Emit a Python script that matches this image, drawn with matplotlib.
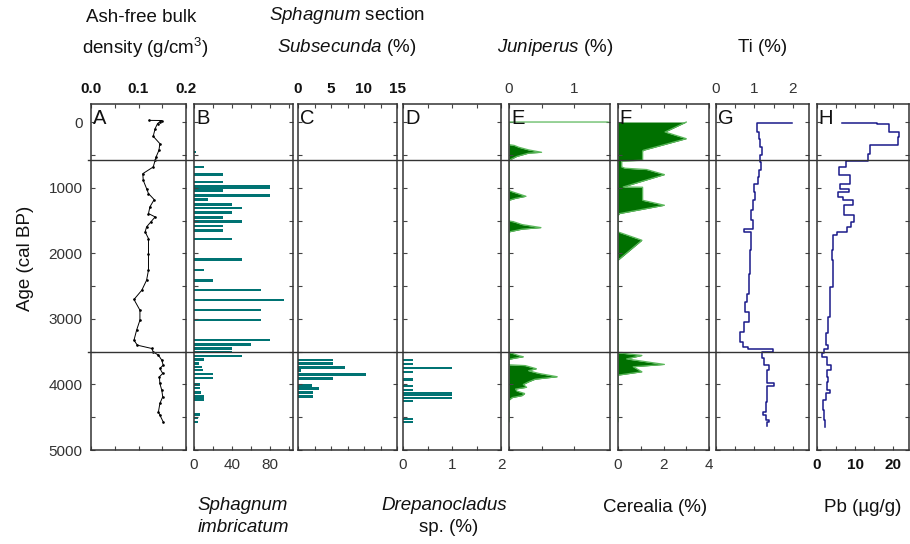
import numpy as np
import matplotlib
matplotlib.use('Agg')
import matplotlib.pyplot as plt
from matplotlib.lines import Line2D
from matplotlib.transforms import blended_transform_factory

plt.rcParams['font.family'] = ['Liberation Sans', 'DejaVu Sans']
plt.rcParams['mathtext.fontset'] = 'custom'
plt.rcParams['mathtext.rm'] = 'Liberation Sans'
plt.rcParams['mathtext.it'] = 'Liberation Sans:italic'

# zone boundaries (cal BP)
zones = [580, 3500]

# A: ash-free bulk density (g/cm3)
dens_age = [-30, -28, -10, 20, 96, 213, 325, 427, 528, 579,
            681, 783, 884, 1011, 1087, 1179, 1290, 1392, 1443, 1519,
            1595, 1672, 1773, 2002, 2256, 2409, 2561, 2703, 2866, 3019,
            3171, 3324, 3400, 3451, 3502, 3553, 3629, 3705, 3756, 3832,
            3883, 3985, 4087, 4188, 4290, 4417, 4468, 4570]
dens_val = [0.123, 0.149, 0.145, 0.140, 0.135, 0.131, 0.145, 0.143, 0.137, 0.135,
            0.131, 0.109, 0.110, 0.117, 0.121, 0.133, 0.124, 0.121, 0.135, 0.126,
            0.117, 0.114, 0.121, 0.121, 0.121, 0.117, 0.107, 0.0905, 0.103, 0.103,
            0.096, 0.0905, 0.0975, 0.128, 0.131, 0.142, 0.149, 0.152, 0.145, 0.151,
            0.144, 0.145, 0.149, 0.151, 0.145, 0.142, 0.145, 0.152]

# B: Sphagnum imbricatum
imb_age = [452, 681, 793, 910, 971, 996, 1037, 1113, 1174, 1250,
           1306, 1377, 1453, 1509, 1580, 1646, 1783, 2093, 2256, 2409,
           2561, 2713, 2866, 3019, 3324, 3390, 3451, 3502, 3563, 3619,
           3680, 3731, 3782, 3843, 3899, 4001, 4052, 4123, 4179, 4230,
           4458, 4509, 4570]
imb_val = [2, 10.5, 30, 30, 80, 80, 30, 80, 15, 40,
           50, 40, 30, 50, 30, 30, 40, 50, 10, 20,
           70, 95, 70, 70, 80, 60, 40, 40, 50, 10,
           5, 8, 9, 20, 20, 6, 6, 7, 10, 10,
           6, 4, 4]

# C: Sphagnum section Subsecunda (%)
sub_age = [3628, 3679, 3740, 3791, 3852, 3913, 4014, 4065, 4126, 4187]
sub_val = [5.25, 5.25, 7.1, 0.4, 10.3, 5.25, 2.1, 3.2, 2.2, 2.2]

# D: Drepanocladus sp. (%)
dre_age = [3628, 3689, 3750, 3811, 3913, 3933, 4024, 4085, 4126, 4156, 4202, 4248, 4522, 4578]
dre_val = [0.21, 0.21, 1.01, 0.21, 0.21, 0.21, 0.21, 0.21, 1.0, 1.0, 1.0, 0.21, 0.21, 0.21]

# E: Juniperus (%)
jun_age = [-5, -5, 340, 352, 380, 420, 457, 470, 520, 579,
           1040, 1060, 1128, 1160, 1189,
           1505, 1520, 1560, 1606, 1630, 1672,
           3510, 3525, 3560, 3577, 3600, 3618,
           3700, 3712, 3760, 3790, 3830, 3882, 3920, 3960, 4000, 4043,
           4070, 4100, 4138, 4170, 4200, 4240, 4568]
jun_val = [1.52, 0, 0, 0.08, 0.15, 0.3, 0.5, 0.3, 0.12, 0,
           0, 0.05, 0.26, 0.1, 0,
           0, 0.08, 0.2, 0.49, 0.2, 0,
           0, 0.05, 0.15, 0.22, 0.08, 0,
           0, 0.25, 0.42, 0.3, 0.45, 0.74, 0.4, 0.3, 0.22, 0.27,
           0.1, 0.12, 0.24, 0.2, 0.05, 0, 0]

# F: Cerealia (%)
cer_age = [-5, 147, 249, 427, 440, 579, 590, 681, 700, 720,
           797, 986, 990, 1189, 1265, 1392, 1420, 1672, 1799, 2104,
           3516, 3557, 3610, 3694, 3730, 3806, 3858, 4568]
cer_val = [3.0, 2.07, 3.0, 1.11, 1.08, 1.08, 0.16, 0.16, 0.31, 1.26,
           2.04, 0.23, 1.08, 1.08, 2.04, 0.07, 0, 0, 1.05, 0,
           0, 1.05, 0.38, 2.04, 0.67, 1.05, 0, 0]

# G: Ti (%), sample boundaries and values
ti_bounds = [5, 10, 147, 249, 376, 503, 605, 732, 833, 935,
             1062, 1189, 1341, 1494, 1621, 1672, 1951, 2307, 2612, 2739,
             2891, 3044, 3197, 3349, 3425, 3466, 3502, 3603, 3705, 3781,
             3857, 3984, 4024, 4263, 4416, 4467, 4543, 4568, 4634]
ti_val = [1.99, 1.06, 1.12, 1.15, 1.19, 1.15, 1.17, 1.12, 1.08, 0.98,
          1.01, 0.95, 0.91, 0.95, 0.74, 0.91, 0.89, 0.86, 0.80, 0.76,
          0.86, 0.72, 0.63, 0.69, 0.82, 1.49, 1.19, 1.25, 1.38, 1.34,
          1.32, 1.51, 1.34, 1.30, 1.21, 1.30, 1.38, 1.32]

# H: Pb (ug/g)
pb_bounds = [4, 5, 20, 147, 224, 351, 478, 595, 681, 808,
             935, 1011, 1062, 1138, 1189, 1265, 1418, 1519, 1595, 1672,
             1722, 1951, 2104, 2510, 2967, 3222, 3400, 3466, 3527, 3578,
             3705, 3781, 3883, 3959, 4086, 4136, 4238, 4390, 4543, 4644]
pb_val = [6.5, 15.7, 19.0, 21.7, 21.4, 13.9, 13.5, 7.6, 5.9, 8.7,
          6.1, 8.3, 5.6, 6.8, 9.6, 7.1, 9.8, 8.9, 7.8, 5.2,
          4.3, 4.0, 4.2, 3.4, 3.0, 2.4, 3.0, 1.9, 1.2, 2.5,
          3.6, 2.5, 3.0, 2.5, 3.4, 2.4, 1.5, 1.9, 2.1]


def steps(bounds, vals):
    y = np.repeat(bounds, 2)[1:-1]
    x = np.repeat(vals, 2)
    return x, y


W, H = 910, 544
fig = plt.figure(figsize=(W / 100, H / 100), dpi=100)

panel_x = [(91, 186), (194, 293), (298, 397), (403, 501),
           (509, 610), (618, 709), (716, 809), (817, 909)]
letters = 'ABCDEFGH'
axes = []
for (x0, x1), let in zip(panel_x, letters):
    ax = fig.add_axes([x0 / W, (H - 450) / H, (x1 - x0) / W, 346 / H])
    ax.set_ylim(5000, -280)
    ax.set_yticks(np.arange(0, 5001, 500))
    ax.set_yticklabels([str(v) if v % 1000 == 0 else '' for v in range(0, 5001, 500)])
    ax.tick_params(axis='both', which='both', direction='in', top=True, right=True,
                   length=3, width=0.8, color='#444444', labelsize=11,
                   labelcolor='#333333', pad=6)
    ax.tick_params(axis='y', labelleft=(let == 'A'))
    for s in ax.spines.values():
        s.set_color('#333333')
        s.set_linewidth(1.1)
    ax.text(0.02, 0.985, let, transform=ax.transAxes, ha='left', va='top',
            fontsize=14.5, color='#111111')
    axes.append(ax)

axA, axB, axC, axD, axE, axF, axG, axH = axes

teal = '#007373'
green = '#007000'
light_green = '#5cb85c'
navy = '#1a1a8a'

# A
axA.plot(dens_val, dens_age, color='black', lw=0.7, marker='.', ms=1.8)
axA.set_xlim(0, 0.2)
axA.set_xticks([0, 0.1, 0.2])
axA.set_xticklabels(['0.0', '0.1', '0.2'])
axA.set_xticks([0.05, 0.15], minor=True)

# B
axB.barh(imb_age, imb_val, height=40, color=teal)
axB.set_xlim(0, 104)
axB.set_xticks([0, 40, 80])
axB.set_xticks([20, 60, 100], minor=True)

# C
axC.barh(sub_age, sub_val, height=40, color=teal)
axC.set_xlim(0, 15)
axC.set_xticks([0, 5, 10, 15])
axC.set_xticks([2.5, 7.5, 12.5], minor=True)

# D
axD.barh(dre_age, dre_val, height=32, color=teal)
axD.set_xlim(0, 2)
axD.set_xticks([0, 1, 2])
axD.set_xticks([0.5, 1.5], minor=True)

# E
axE.fill_betweenx(jun_age, 0, jun_val, color=green, lw=0)
axE.plot(jun_val, jun_age, color=light_green, lw=0.9)
axE.set_xlim(0, 1.55)
axE.set_xticks([0, 1])
axE.set_xticks([0.5], minor=True)

# F
axF.fill_betweenx(cer_age, 0, cer_val, color=green, lw=0)
axF.plot(cer_val, cer_age, color=light_green, lw=0.9)
axF.set_xlim(0, 4)
axF.set_xticks([0, 2, 4])
axF.set_xticks([1, 3], minor=True)

# G
gx, gy = steps(ti_bounds, ti_val)
axG.plot(gx, gy, color=navy, lw=1.1)
axG.set_xlim(0, 2.42)
axG.set_xticks([0, 1, 2])
axG.set_xticks([0.5, 1.5], minor=True)

# H
hx, hy = steps(pb_bounds, pb_val)
axH.plot(hx, hy, color=navy, lw=1.1)
axH.set_xlim(0, 24.2)
axH.set_xticks([0, 10, 20])
axH.set_xticks([5, 15], minor=True)

for ax in (axA, axC, axE, axG):
    ax.tick_params(axis='x', labeltop=True, labelbottom=False)
for ax in (axB, axD, axF, axH):
    ax.tick_params(axis='x', labeltop=False, labelbottom=True)
for lab in axH.get_xticklabels() + axC.get_xticklabels() + axA.get_xticklabels():
    lab.set_fontweight('bold')
    lab.set_color('#111111')

# zone lines across all panels
tr = blended_transform_factory(fig.transFigure, axA.transData)
for z in zones:
    fig.add_artist(Line2D([88 / W, 1.0], [z, z], transform=tr,
                          color='#333333', lw=1.0, zorder=10))


def ftext(x, y, s, **kw):
    fig.text(x / W, 1 - y / H, s, ha='center', va='center', fontsize=13.5,
             color='#111111', **kw)


ftext(141, 17, 'Ash-free bulk')
ftext(145, 48, 'density (g/cm$^3$)')
ftext(347, 15, r'$\mathit{Sphagnum}$ section')
ftext(347, 47, r'$\mathit{Subsecunda}$ (%)')
ftext(555, 47, r'$\mathit{Juniperus}$ (%)')
ftext(763, 47, 'Ti (%)')
ftext(243, 506, 'Sphagnum', style='italic')
ftext(243, 527, 'imbricatum', style='italic')
ftext(444, 506, 'Drepanocladus', style='italic')
ftext(449, 528, 'sp. (%)')
ftext(655, 507, 'Cerealia (%)')
ftext(863, 507, 'Pb (\u00b5g/g)')
fig.text(25 / W, 1 - 258 / H, 'Age (cal BP)', rotation=90, ha='center',
         va='center', fontsize=13.5, color='#111111')

fig.savefig('out.png', dpi=100)
